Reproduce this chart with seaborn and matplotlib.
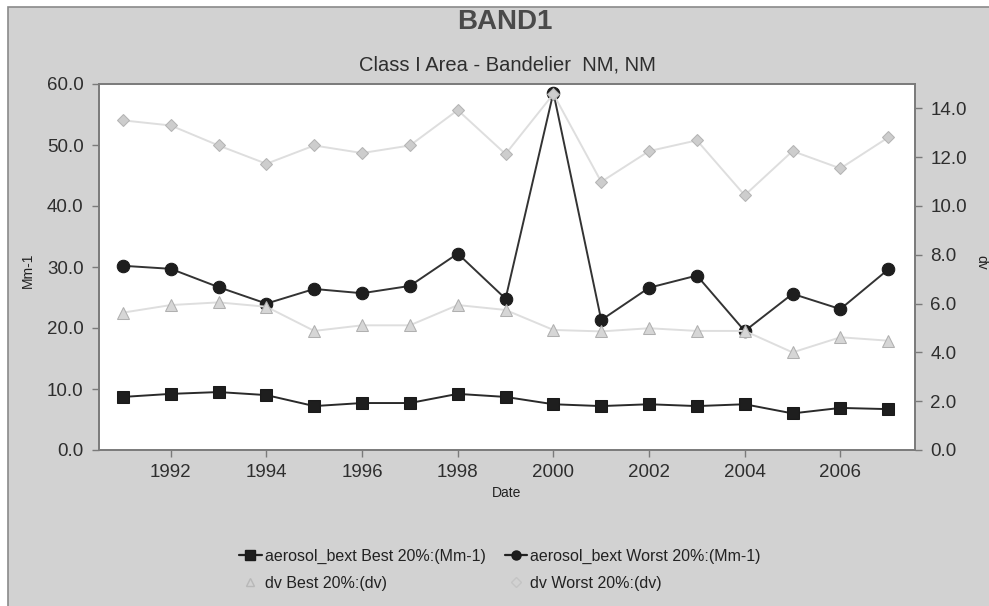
import matplotlib
matplotlib.use("Agg")
import matplotlib.pyplot as plt
import matplotlib.patches as mpatches
from matplotlib.lines import Line2D
import seaborn as sns
import pandas as pd

years = list(range(1991, 2008))
aero_best = [8.7, 9.2, 9.5, 9.0, 7.2, 7.7, 7.7, 9.2, 8.7, 7.5, 7.2, 7.5, 7.2, 7.5, 6.0, 6.9, 6.7]
aero_worst = [30.2, 29.7, 26.7, 24.0, 26.4, 25.7, 26.9, 32.2, 24.8, 58.6, 21.3, 26.6, 28.6, 19.5, 25.6, 23.1, 29.6]
dv_best = [5.63, 5.94, 6.05, 5.87, 4.88, 5.11, 5.11, 5.94, 5.74, 4.92, 4.86, 4.99, 4.88, 4.88, 4.00, 4.62, 4.48]
dv_worst = [13.51, 13.30, 12.48, 11.73, 12.48, 12.17, 12.48, 13.93, 12.13, 14.59, 10.99, 12.25, 12.69, 10.44, 12.25, 11.54, 12.81]

labels = ["aerosol_bext Best 20%:(Mm-1)", "aerosol_bext Worst 20%:(Mm-1)",
          "dv Best 20%:(dv)", "dv Worst 20%:(dv)"]
left_ticks = [0, 10, 20, 30, 40, 50, 60]
right_ticks = [0, 2, 4, 6, 8, 10, 12, 14]
x_ticks = [1992, 1994, 1996, 1998, 2000, 2002, 2004, 2006]

sns.set_theme(style="white")
plt.rcParams['font.family'] = ['Liberation Sans', 'DejaVu Sans']

W, H = 989, 606
fig = plt.figure(figsize=(W / 100, H / 100), dpi=100)
fig.patch.set_facecolor("white")
bg = mpatches.Rectangle((8 / W, -0.01), 1.0, (H - 7) / H + 0.01, transform=fig.transFigure,
                        facecolor="#d2d2d2", edgecolor="#8a8a8a", linewidth=1.2, zorder=-5)
fig.patches.append(bg)

ax = fig.add_axes([99 / W, (H - 450) / H, (915 - 99) / W, (450 - 84) / H])
ax.set_facecolor("white")
ax2 = ax.twinx()

df_a = pd.DataFrame({"year": years, "best": aero_best, "worst": aero_worst})
df_d = pd.DataFrame({"year": years, "best": dv_best, "worst": dv_worst})

sns.lineplot(data=df_a, x="year", y="best", ax=ax, color="#2a2a2a", marker="s",
             markersize=9, markeredgecolor="#1a1a1a", markerfacecolor="#1e1e1e", linewidth=1.4,
             zorder=3)
sns.lineplot(data=df_a, x="year", y="worst", ax=ax, color="#333333", marker="o",
             markersize=9, markeredgecolor="#1a1a1a", markerfacecolor="#1e1e1e", linewidth=1.4,
             zorder=3)
sns.lineplot(data=df_d, x="year", y="best", ax=ax2, color="#dedede", marker="^",
             markersize=8, markeredgecolor="#b0b0b0", markerfacecolor="#d6d6d6", linewidth=1.4,
             zorder=2)
sns.lineplot(data=df_d, x="year", y="worst", ax=ax2, color="#dedede", marker="D",
             markersize=6.5, markeredgecolor="#b4b4b4", markerfacecolor="#cdcdcd", linewidth=1.4,
             zorder=2)

ax.set_xlim(1990.5, 2007.56)
ax.set_ylim(0, 60)
ax2.set_ylim(0, 15)
ax.set_xticks(x_ticks)
ax.set_xticklabels([str(t) for t in x_ticks])
ax.set_yticks(left_ticks)
ax.set_yticklabels([f"{t:.1f}" for t in left_ticks])
ax2.set_yticks(right_ticks)
ax2.set_yticklabels([f"{t:.1f}" for t in right_ticks])

for a in (ax, ax2):
    for s in a.spines.values():
        s.set_color("#7a7a7a")
        s.set_linewidth(1.2)
    a.tick_params(axis="both", direction="out", length=5, width=1, color="#7a7a7a",
                  labelsize=13.5, labelcolor="#2e2e2e", pad=6)
ax.tick_params(axis="x", pad=5, bottom=True)
ax.tick_params(axis="y", left=True)
ax2.tick_params(axis="y", right=True)

ax.set_xlabel("Date", fontsize=10, color="#222222", labelpad=4)
ax.set_ylabel("")
ax2.set_ylabel("")
fig.text(28 / W, 1 - 270 / H, "Mm-1", rotation=90, ha="center", va="center", fontsize=10,
         color="#222222")
fig.text(981 / W, 1 - 262 / H, "dv", rotation=270, ha="center", va="center", fontsize=10,
         color="#222222")

fig.text(505 / W, 1 - 22 / H, "BAND1", ha="center", va="center", fontsize=20,
         fontweight="bold", color="#4a4a4a")
fig.text(507 / W, 1 - 65 / H, "Class I Area - Bandelier  NM, NM", ha="center", va="center",
         fontsize=14.5, color="#2e2e2e")

handles = [
    Line2D([], [], color="#222222", marker="s", markersize=6.5, markerfacecolor="#1e1e1e",
           markeredgecolor="#1a1a1a", linewidth=1.6),
    Line2D([], [], color="#dedede", marker="^", markersize=6, markerfacecolor="none",
           markeredgecolor="#b8b8b8", linewidth=0),
    Line2D([], [], color="#222222", marker="o", markersize=6.5, markerfacecolor="#1e1e1e",
           markeredgecolor="#1a1a1a", linewidth=1.6),
    Line2D([], [], color="#dedede", marker="D", markersize=5, markerfacecolor="none",
           markeredgecolor="#c4c4c4", linewidth=0),
]
leg_labels = [labels[0], labels[2], labels[1], labels[3]]
leg = fig.legend(handles, leg_labels, ncol=2, loc="center", bbox_to_anchor=(500 / W, 1 - 570 / H),
                 frameon=False, fontsize=11.5, handlelength=1.4, handletextpad=0.2,
                 columnspacing=1.2, labelspacing=0.75)
for t in leg.get_texts():
    t.set_color("#222222")

fig.savefig("out.png", dpi=100)
